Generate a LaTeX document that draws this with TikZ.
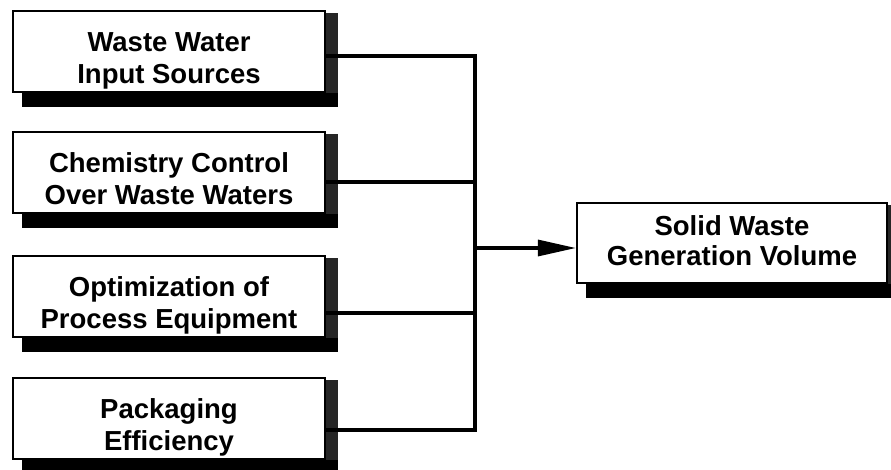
\documentclass[tikz,border=0pt]{standalone}
\usepackage{fontspec}
\setmainfont{Liberation Sans}
\usetikzlibrary{arrows.meta,backgrounds}
\begin{document}
\begin{tikzpicture}[x=1pt,y=-1pt,
  factor/.style={draw=black, line width=2.2pt, fill=white, inner sep=0pt,
    minimum width=312pt, minimum height=81pt, align=center,
    font=\fontsize{27.5}{32}\selectfont\bfseries,
    text height=71pt, text depth=8pt},
  result/.style={factor, minimum width=310pt, minimum height=80pt,
    font=\fontsize{27.5}{30}\selectfont\bfseries,
    text height=52pt, text depth=8pt},
  link/.style={line width=3.2pt},
  ]
\useasboundingbox (0,0) rectangle (891,469);

% contributing factors
\node[factor] (b1) at (169,51.5)  {Waste Water\\Input Sources};
\node[factor] (b2) at (169,172.5) {Chemistry Control\\Over Waste Waters};
\node[factor] (b3) at (169,296.5) {Optimization of\\Process Equipment};
\node[factor] (b4) at (169,418.5) {Packaging\\Efficiency};

% outcome
\node[result] (out) at (732,243) {Solid Waste\\Generation Volume};

% drop shadows
\begin{scope}[on background layer]
  \foreach \b in {b1,b2,b3,b4,out} {
    \fill[black!85] ([yshift=-3pt]\b.north east)
      rectangle ([xshift=12pt,yshift=-14pt]\b.south east);
    \fill[black] ([xshift=10pt]\b.south west)
      rectangle ([xshift=12pt,yshift=-14pt]\b.south east);
  }
\end{scope}

% collecting bus
\coordinate (j1) at (475,56);
\coordinate (j2) at (475,182);
\coordinate (j3) at (475,313);
\coordinate (j4) at (475,430);
\coordinate (ja) at (475,248);

\draw[link] (j1 -| b1.east) -- (j1) -- (j4) -- (j4 -| b4.east);
\draw[link] (j2 -| b2.east) -- (j2);
\draw[link] (j3 -| b3.east) -- (j3);
\draw[link,-{Triangle[length=38pt,width=16pt]}] (ja) -- (ja -| out.west);
\end{tikzpicture}
\end{document}
